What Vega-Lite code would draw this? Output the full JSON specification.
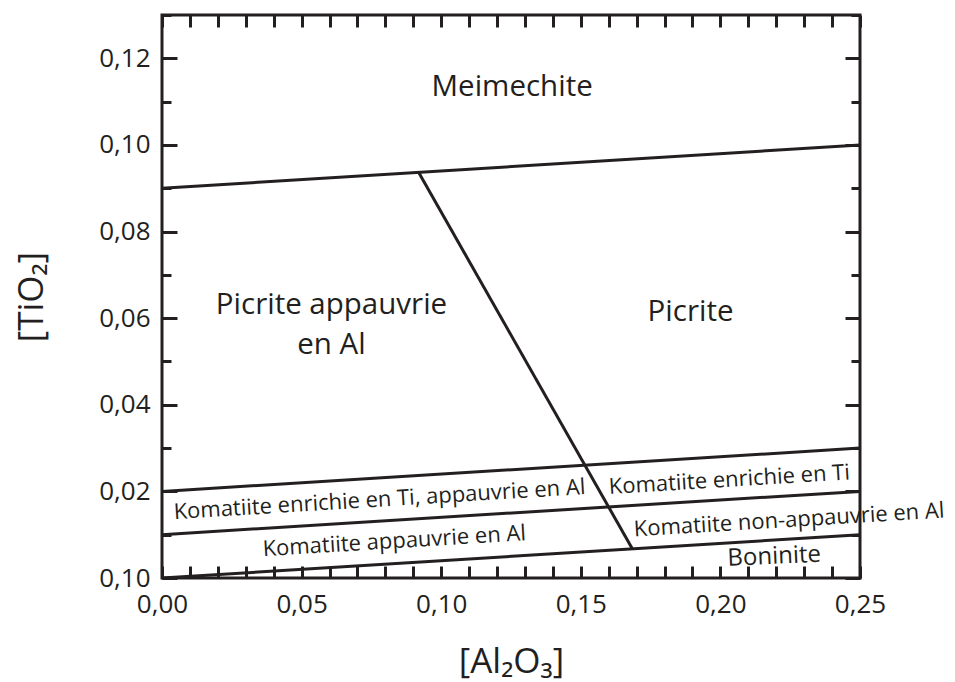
{
  "$schema": "https://vega.github.io/schema/vega-lite/v6.json",
  "width": 698,
  "height": 563,
  "autosize": {"type": "none"},
  "padding": {"left": 162, "top": 15, "right": 95, "bottom": 104},
  "background": "white",
  "config": {
    "view": {"stroke": "#231f20", "strokeWidth": 3},
    "font": "Open Sans",
    "axis": {
      "domain": false,
      "grid": false,
      "labelColor": "#231f20",
      "labelFont": "Open Sans",
      "labelFontSize": 26,
      "labelFlush": false,
      "labelOverlap": false,
      "labelBound": false,
      "titleFont": "Open Sans",
      "titleFontSize": 35,
      "titleFontWeight": "normal",
      "titleColor": "#231f20"
    }
  },
  "resolve": {"axis": {"x": "independent", "y": "independent"}},
  "layer": [
    {
      "data": {
        "values": [
          {"seg": "top", "x": 0, "y": 0.09},
          {"seg": "top", "x": 0.25, "y": 0.1},
          {"seg": "diag", "x": 0.0919, "y": 0.0937},
          {"seg": "diag", "x": 0.1685, "y": 0.0067},
          {"seg": "k1", "x": 0, "y": 0.02},
          {"seg": "k1", "x": 0.25, "y": 0.03},
          {"seg": "k2", "x": 0, "y": 0.01},
          {"seg": "k2", "x": 0.25, "y": 0.02},
          {"seg": "k3", "x": 0, "y": 0},
          {"seg": "k3", "x": 0.25, "y": 0.01}
        ]
      },
      "mark": {"type": "line", "color": "#231f20", "strokeWidth": 3},
      "encoding": {
        "x": {
          "field": "x",
          "type": "quantitative",
          "scale": {"domain": [0, 0.25], "nice": false, "zero": false},
          "axis": {
            "orient": "bottom",
            "title": "[Al₂O₃]",
            "values": [0, 0.01, 0.02, 0.03, 0.04, 0.05, 0.06, 0.07, 0.08, 0.09, 0.1, 0.11, 0.12, 0.13, 0.14, 0.15, 0.16, 0.17, 0.18, 0.19, 0.2, 0.21, 0.22, 0.23, 0.24, 0.25],
            "labelExpr": "round(datum.value*100) % 5 == 0 ? replace(format(datum.value, '.2f'), '.', ',') : ''",
            "tickColor": "#231f20",
            "tickWidth": 3,
            "tickSize": -12,
            "labelPadding": 25,
            "titleBaseline": "alphabetic",
            "titleY": 94
          }
        },
        "y": {
          "field": "y",
          "type": "quantitative",
          "scale": {"domain": [0, 0.13], "nice": false, "zero": false},
          "axis": {
            "orient": "left",
            "title": "[TiO₂]",
            "values": [0, 0.01, 0.02, 0.03, 0.04, 0.05, 0.06, 0.07, 0.08, 0.09, 0.1, 0.11, 0.12, 0.13],
            "labelExpr": "datum.value == 0 ? '0,10' : (round(datum.value*100) % 2 == 0 ? replace(format(datum.value, '.2f'), '.', ',') : '')",
            "tickColor": "#231f20",
            "tickWidth": 3,
            "tickSize": {"condition": {"test": "round(datum.value*100) % 2 == 0", "value": -15}, "value": -9},
            "labelPadding": 27,
            "titleBaseline": "alphabetic",
            "titleX": -120
          }
        },
        "detail": {"field": "seg"}
      }
    },
    {
      "data": {
        "values": [
          {"label": "Meimechite", "x": 0.1254, "y": 0.1114},
          {"label": "Picrite appauvrie\nen Al", "x": 0.0607, "y": 0.0609},
          {"label": "Picrite", "x": 0.1893, "y": 0.0594}
        ]
      },
      "mark": {"type": "text", "align": "center", "baseline": "alphabetic", "fontSize": 29.5, "lineBreak": "\n", "lineHeight": 40, "color": "#231f20", "font": "Open Sans"},
      "encoding": {
        "x": {
          "field": "x",
          "type": "quantitative",
          "scale": {"domain": [0, 0.25], "nice": false, "zero": false},
          "axis": {
            "orient": "top",
            "title": null,
            "labels": false,
            "values": [0, 0.01, 0.02, 0.03, 0.04, 0.05, 0.06, 0.07, 0.08, 0.09, 0.1, 0.11, 0.12, 0.13, 0.14, 0.15, 0.16, 0.17, 0.18, 0.19, 0.2, 0.21, 0.22, 0.23, 0.24, 0.25],
            "tickColor": "#231f20",
            "tickWidth": 3,
            "tickSize": -12
          }
        },
        "y": {
          "field": "y",
          "type": "quantitative",
          "scale": {"domain": [0, 0.13], "nice": false, "zero": false},
          "axis": {
            "orient": "right",
            "title": null,
            "labels": false,
            "values": [0, 0.01, 0.02, 0.03, 0.04, 0.05, 0.06, 0.07, 0.08, 0.09, 0.1, 0.11, 0.12, 0.13],
            "tickColor": "#231f20",
            "tickWidth": 3,
            "tickSize": {"condition": {"test": "round(datum.value*100) % 2 == 0", "value": -15}, "value": -9}
          }
        },
        "text": {"field": "label"}
      }
    },
    {
      "data": {
        "values": [
          {"label": "Komatiite enrichie en Ti, appauvrie en Al", "x": 0.0779, "y": 0.0181},
          {"label": "Komatiite appauvrie en Al", "x": 0.0832, "y": 0.0085},
          {"label": "Komatiite enrichie en Ti", "x": 0.2032, "y": 0.0227},
          {"label": "Komatiite non-appauvrie en Al", "x": 0.2246, "y": 0.0134}
        ]
      },
      "mark": {"type": "text", "align": "center", "baseline": "middle", "fontSize": 22, "angle": -3.5, "color": "#231f20", "font": "Open Sans"},
      "encoding": {
        "x": {"field": "x", "type": "quantitative", "scale": {"domain": [0, 0.25], "nice": false, "zero": false}, "axis": null},
        "y": {"field": "y", "type": "quantitative", "scale": {"domain": [0, 0.13], "nice": false, "zero": false}, "axis": null},
        "text": {"field": "label"}
      }
    },
    {
      "data": {
        "values": [
          {"label": "Boninite", "x": 0.2193, "y": 0.0049}
        ]
      },
      "mark": {"type": "text", "align": "center", "baseline": "middle", "fontSize": 24, "angle": -2.5, "color": "#231f20", "font": "Open Sans"},
      "encoding": {
        "x": {"field": "x", "type": "quantitative", "scale": {"domain": [0, 0.25], "nice": false, "zero": false}, "axis": null},
        "y": {"field": "y", "type": "quantitative", "scale": {"domain": [0, 0.13], "nice": false, "zero": false}, "axis": null},
        "text": {"field": "label"}
      }
    }
  ]
}
